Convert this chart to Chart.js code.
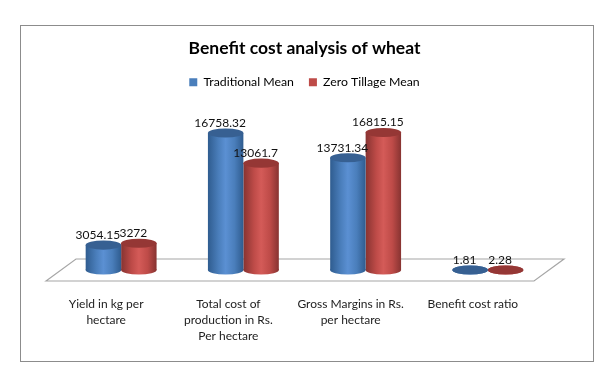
<!DOCTYPE html>
<html>
<head>
<meta charset="utf-8">
<script src="https://cdn.jsdelivr.net/npm/chart.js@4/dist/chart.umd.min.js"></script>
<style>
  html, body { margin: 0; padding: 0; background: #fff; }
  #wrap { position: relative; width: 613px; height: 385px; }
  #frame { position: absolute; left: 20px; top: 25px; width: 572px; height: 335px; border: 1px solid #8c8c8c; box-sizing: content-box; }
  canvas { position: absolute; left: 0; top: 0; }
</style>
</head>
<body>
<div id="wrap">
  <div id="frame"></div>
  <canvas id="chart" width="613" height="385"></canvas>
</div>
<script>
const categories = [
  ['Yield in kg per', 'hectare'],
  ['Total cost of', 'production in Rs.', 'Per hectare'],
  ['Gross Margins in Rs.', 'per hectare'],
  ['Benefit cost ratio'],
];
const traditionalMean = [3054.15, 16758.32, 13731.34, 1.81];
const zeroTillageMean = [3272, 13061.7, 16815.15, 2.28];

const FONT = 'Lato, "Open Sans", sans-serif';
const BAR_W = 35.5;
const RY = 4.6;

// edge / mid / highlight / top cap
const BLUE = ['#2f5c8f', '#4a7ebb', '#5b90d3', '#376092'];
const RED = ['#873331', '#be4b48', '#d45b58', '#953735'];

function sideGradient(ctx, cx, pal) {
  const g = ctx.createLinearGradient(cx - BAR_W / 2, 0, cx + BAR_W / 2, 0);
  g.addColorStop(0, pal[0]);
  g.addColorStop(0.3, pal[1]);
  g.addColorStop(0.5, pal[2]);
  g.addColorStop(0.75, pal[1]);
  g.addColorStop(1, pal[0]);
  return g;
}

function barFill(pal, side) {
  return (c) => {
    if (c.type !== 'data') return pal[1];
    const cx = c.chart.scales.x.getPixelForValue(c.dataIndex) + side * BAR_W / 2;
    return sideGradient(c.chart.ctx, cx, pal);
  };
}

const cylinders = {
  id: 'cylinders',
  beforeDatasetsDraw(chart) {
    const { ctx, chartArea: a, scales: { y } } = chart;
    const base = y.getPixelForValue(0);
    // floor
    ctx.save();
    ctx.beginPath();
    ctx.moveTo(a.left - 14, base + 11);
    ctx.lineTo(a.left + 16, base - 11);
    ctx.lineTo(a.right + 15, base - 11);
    ctx.lineTo(a.right - 15, base + 11);
    ctx.closePath();
    ctx.strokeStyle = '#a6a6a6';
    ctx.lineWidth = 1.2;
    ctx.stroke();
    // bottom caps
    chart.data.datasets.forEach((d, i) => {
      const pal = i === 0 ? BLUE : RED;
      chart.getDatasetMeta(i).data.forEach((bar) => {
        ctx.fillStyle = sideGradient(ctx, bar.x, pal);
        ctx.beginPath();
        ctx.ellipse(bar.x, base, BAR_W / 2, RY, 0, 0, Math.PI * 2);
        ctx.fill();
      });
    });
    ctx.restore();
  },
  afterDatasetsDraw(chart) {
    const { ctx } = chart;
    ctx.save();
    chart.data.datasets.forEach((d, i) => {
      const pal = i === 0 ? BLUE : RED;
      chart.getDatasetMeta(i).data.forEach((bar, j) => {
        ctx.fillStyle = pal[3];
        ctx.beginPath();
        ctx.ellipse(bar.x, bar.y, BAR_W / 2, RY, 0, 0, Math.PI * 2);
        ctx.fill();
        ctx.fillStyle = '#111';
        ctx.font = '12px ' + FONT;
        ctx.textAlign = 'center';
        ctx.textBaseline = 'middle';
        ctx.fillText(String(d.data[j]), bar.x - 5.5, bar.y - 10);
      });
    });
    ctx.restore();
  },
};

new Chart(document.getElementById('chart'), {
  type: 'bar',
  data: {
    labels: categories,
    datasets: [
      { label: 'Traditional Mean', data: traditionalMean, backgroundColor: barFill(BLUE, -1), borderWidth: 0 },
      { label: 'Zero Tillage Mean', data: zeroTillageMean, backgroundColor: barFill(RED, 1), borderWidth: 0 },
    ],
  },
  options: {
    responsive: false,
    animation: false,
    layout: { padding: { left: 60, right: 64, top: 38, bottom: 0 } },
    datasets: { bar: { categoryPercentage: 0.58, barPercentage: 1 } },
    plugins: {
      tooltip: { enabled: false },
      title: {
        display: true,
        text: 'Benefit cost analysis of wheat',
        color: '#000',
        font: { family: FONT, size: 17.5, weight: 'bold' },
        padding: { top: 0, bottom: 2 },
      },
      legend: {
        position: 'top',
        labels: {
          boxWidth: 8, boxHeight: 8, padding: 15,
          color: '#222',
          font: { family: FONT, size: 12.3 },
          generateLabels: (chart) => [
            { text: 'Traditional Mean', fillStyle: BLUE[1], lineWidth: 0, datasetIndex: 0 },
            { text: 'Zero Tillage Mean', fillStyle: RED[1], lineWidth: 0, datasetIndex: 1 },
          ],
        },
      },
    },
    scales: {
      x: {
        grid: { display: false },
        border: { display: false },
        afterFit(s) { s.height = 115; },
        ticks: {
          autoSkip: false, maxRotation: 0, minRotation: 0,
          color: '#222', padding: 18, labelOffset: -15,
          font: { family: FONT, size: 12, lineHeight: 1.33 },
        },
      },
      y: { display: false, min: 0, max: 21000 },
    },
  },
  plugins: [cylinders],
});
</script>
</body>
</html>
